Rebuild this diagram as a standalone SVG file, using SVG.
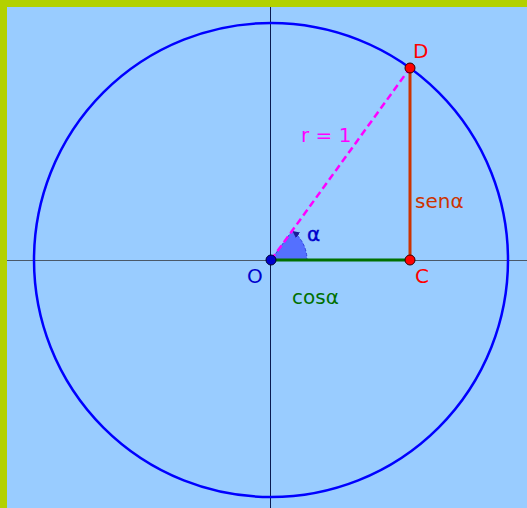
<svg xmlns="http://www.w3.org/2000/svg" width="527" height="508" viewBox="0 0 527 508">
<defs>
<style>
text{font-family:"DejaVu Sans",sans-serif;font-size:20px}
.pt{stroke:#330000;stroke-width:1}
</style>
<marker id="arr" viewBox="0 0 10 10" refX="9" refY="5" markerWidth="7" markerHeight="7" orient="auto" markerUnits="userSpaceOnUse">
<path d="M0,0 L10,5 L0,10 z" fill="#1a1a99"/>
</marker>
</defs>
<rect x="0" y="0" width="527" height="508" fill="#b3d100"/>
<rect x="7" y="7" width="520" height="501" fill="#99ccff"/>
<g id="axes">
<line x1="7" y1="260.5" x2="527" y2="260.5" stroke="#4a5868" stroke-width="1"/>
<line x1="270.5" y1="7" x2="270.5" y2="508" stroke="#0a1a50" stroke-width="1"/>
</g>
<g id="circle">
<circle cx="271" cy="260" r="237" fill="none" stroke="#0000ff" stroke-width="2.5"/>
</g>
<g id="angle">
<path d="M271,260 L307,260 A36,36 0 0 0 292.1,230.8 Z" fill="#4d66ff" fill-opacity="0.9" stroke="#3344dd" stroke-width="1" stroke-dasharray="3,2"/>
<path d="M306.5,252 A36,36 0 0 0 293,231.5" fill="none" stroke="none" marker-end="url(#arr)"/>
</g>
<g id="connectors">
<line x1="271" y1="260" x2="410" y2="260" stroke="#007000" stroke-width="3"/>
<line x1="410" y1="68" x2="410" y2="260" stroke="#cc3300" stroke-width="3"/>
<line x1="271" y1="260" x2="410" y2="68" stroke="#ff00ff" stroke-width="2.5" stroke-dasharray="7,4"/>
</g>
<g id="O">
<circle cx="271" cy="260" r="5" fill="#0000cc" stroke="#000033" stroke-width="1"/>
<text x="247" y="283" fill="#0000cc">O</text>
</g>
<g id="D">
<circle cx="410" cy="68" r="5" fill="#ff0000" class="pt"/>
<text x="413" y="58" fill="#ff0000">D</text>
</g>
<g id="C">
<circle cx="410" cy="260" r="5" fill="#ff0000" class="pt"/>
<text x="415" y="283" fill="#ff0000">C</text>
</g>
<g id="labels">
<text x="301" y="142" fill="#ff00ff">r = 1</text>
<text x="415" y="208" fill="#cc3300">senα</text>
<text x="292" y="304" fill="#007000">cosα</text>
<text x="307" y="241" fill="#0000cc" stroke="#0000cc" stroke-width="0.4">α</text>
</g>
</svg>
